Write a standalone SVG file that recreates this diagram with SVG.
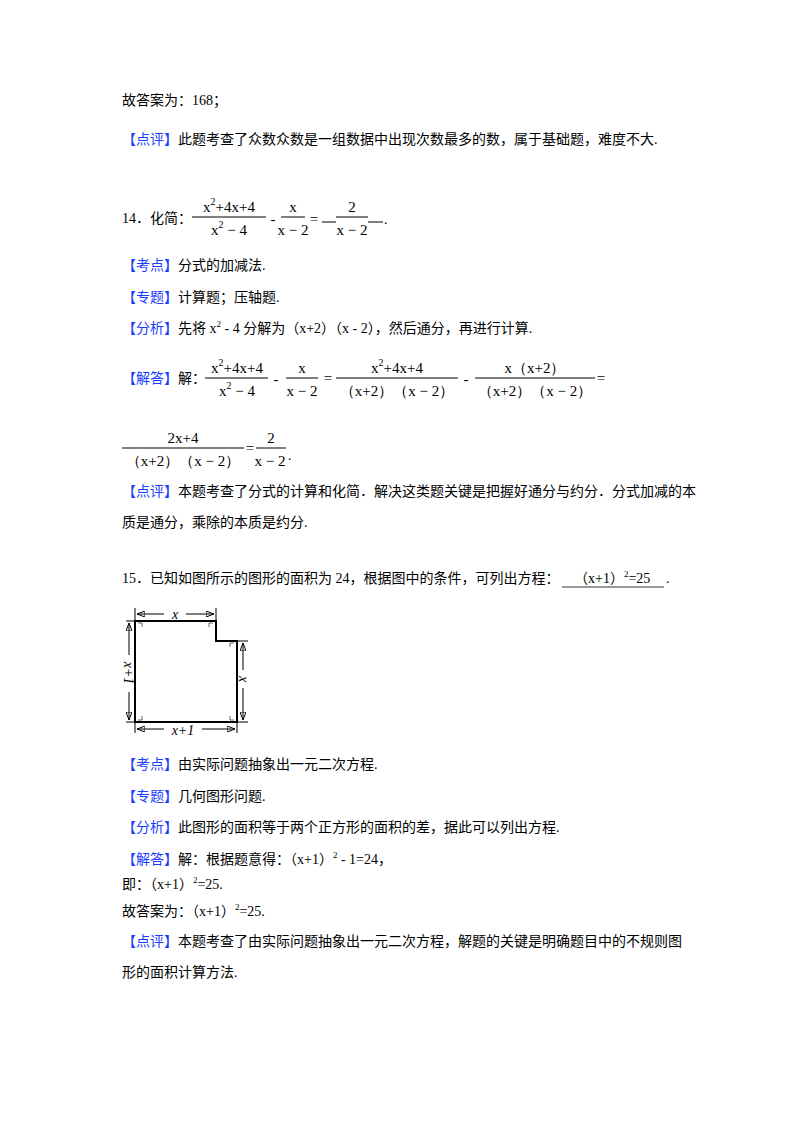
<svg xmlns="http://www.w3.org/2000/svg" width="800" height="1132" viewBox="0 0 800 1132">
<style>
text{font-family:"Liberation Serif","Noto Sans CJK SC",serif;font-size:14px;fill:#000}
.b{fill:#1a3cff}
.m{font-family:"Liberation Serif",serif;font-size:15px;text-anchor:middle}
.s{font-size:9px}
line,path{stroke:#000;fill:none}
</style>
<defs><marker id="a" markerWidth="8" markerHeight="6" refX="8" refY="3" orient="auto" markerUnits="userSpaceOnUse"><path d="M0,0 L8,3 L0,6 Z" fill="#000" stroke="none"/></marker></defs>
<rect width="800" height="1132" fill="#fff"/>
<g id="text">
<text x="122" y="105">故答案为：168；</text>
<text x="122" y="144"><tspan class="b">【点评】</tspan>此题考查了众数众数是一组数据中出现次数最多的数，属于基础题，难度不大.</text>
<text x="122" y="223">14．化简：</text>
<text class="m" x="229" y="212">x<tspan font-size="10" dy="-7">2</tspan><tspan dy="7">+4x+4</tspan></text>
<line x1="192" y1="217" x2="266" y2="217"/>
<text class="m" x="229" y="235">x<tspan font-size="10" dy="-7">2</tspan><tspan dy="7"> − 4</tspan></text>
<text class="m" x="273" y="224">-</text>
<text class="m" x="293" y="212">x</text>
<line x1="281" y1="217" x2="305" y2="217"/>
<text class="m" x="293" y="235">x − 2</text>
<text class="m" x="314" y="224">=</text>
<line x1="322" y1="222" x2="336" y2="222"/>
<text class="m" x="352" y="212">2</text>
<line x1="336" y1="217" x2="368" y2="217"/>
<text class="m" x="352" y="235">x − 2</text>
<line x1="368" y1="222" x2="383" y2="222"/>
<text x="384" y="224">.</text>
<text x="122" y="270"><tspan class="b">【考点】</tspan>分式的加减法.</text>
<text x="122" y="302"><tspan class="b">【专题】</tspan>计算题；压轴题.</text>
<text x="122" y="333"><tspan class="b">【分析】</tspan>先将 x<tspan class="s" dy="-6">2</tspan><tspan dy="6"> - 4 分解为（x+2）（x - 2），然后通分，再进行计算.</tspan></text>
<text x="122" y="383"><tspan class="b">【解答】</tspan>解：</text>
<text class="m" x="237" y="373">x<tspan font-size="10" dy="-7">2</tspan><tspan dy="7">+4x+4</tspan></text>
<line x1="205" y1="378" x2="268" y2="378"/>
<text class="m" x="237" y="396">x<tspan font-size="10" dy="-7">2</tspan><tspan dy="7"> − 4</tspan></text>
<text class="m" x="276" y="384">-</text>
<text class="m" x="302" y="373">x</text>
<line x1="286" y1="378" x2="318" y2="378"/>
<text class="m" x="302" y="396">x − 2</text>
<text class="m" x="328" y="383">=</text>
<text class="m" x="397" y="373">x<tspan font-size="10" dy="-7">2</tspan><tspan dy="7">+4x+4</tspan></text>
<line x1="336" y1="378" x2="458" y2="378"/>
<text class="m" x="397" y="396">（x+2）（x − 2）</text>
<text class="m" x="466" y="384">-</text>
<text class="m" x="535" y="373">x（x+2）</text>
<line x1="475" y1="378" x2="595" y2="378"/>
<text class="m" x="535" y="396">（x+2）（x − 2）</text>
<text class="m" x="601" y="383">=</text>
<text class="m" x="183" y="443">2x+4</text>
<line x1="122" y1="448" x2="244" y2="448"/>
<text class="m" x="183" y="466">（x+2）（x − 2）</text>
<text class="m" x="250" y="453">=</text>
<text class="m" x="271" y="443">2</text>
<line x1="256" y1="448" x2="286" y2="448"/>
<text class="m" x="270" y="466">x − 2</text><text x="288" y="460">.</text>
<text x="122" y="496"><tspan class="b">【点评】</tspan>本题考查了分式的计算和化简．解决这类题关键是把握好通分与约分．分式加减的本</text>
<text x="122" y="527">质是通分，乘除的本质是约分.</text>
<text x="122" y="583">15．已知如图所示的图形的面积为 24，根据图中的条件，可列出方程：</text>
<text x="574" y="583">（x+1）<tspan class="s" dy="-6">2</tspan><tspan dy="6">=25</tspan></text>
<line x1="562" y1="587" x2="664" y2="587" stroke-width="0.8"/>
<text x="666" y="583">.</text>
<text x="122" y="769"><tspan class="b">【考点】</tspan>由实际问题抽象出一元二次方程.</text>
<text x="122" y="801"><tspan class="b">【专题】</tspan>几何图形问题.</text>
<text x="122" y="832"><tspan class="b">【分析】</tspan>此图形的面积等于两个正方形的面积的差，据此可以列出方程.</text>
<text x="122" y="864"><tspan class="b">【解答】</tspan>解：根据题意得：（x+1）<tspan class="s" dy="-6">2</tspan><tspan dy="6"> - 1=24，</tspan></text>
<text x="122" y="889">即：（x+1）<tspan class="s" dy="-6">2</tspan><tspan dy="6">=25.</tspan></text>
<text x="122" y="916">故答案为：（x+1）<tspan class="s" dy="-6">2</tspan><tspan dy="6">=25.</tspan></text>
<text x="122" y="946"><tspan class="b">【点评】</tspan>本题考查了由实际问题抽象出一元二次方程，解题的关键是明确题目中的不规则图</text>
<text x="122" y="977">形的面积计算方法.</text>
</g>
<g id="figure">
<path d="M135,621 H216 V641 H237 V722 H135 Z" stroke-width="2"/>
<line x1="135" y1="608" x2="135" y2="621"/><line x1="216" y1="608" x2="216" y2="621"/>
<line x1="126" y1="621" x2="135" y2="621"/><line x1="126" y1="722" x2="135" y2="722"/>
<line x1="237" y1="641" x2="248" y2="641"/><line x1="237" y1="722" x2="248" y2="722"/>
<line x1="135" y1="722" x2="135" y2="733"/><line x1="237" y1="722" x2="237" y2="733"/>
<line x1="164" y1="614" x2="137" y2="614" marker-end="url(#a)"/><line x1="186" y1="614" x2="214" y2="614" marker-end="url(#a)"/>
<line x1="129" y1="655" x2="129" y2="623" marker-end="url(#a)"/><line x1="129" y1="692" x2="129" y2="720" marker-end="url(#a)"/>
<line x1="243" y1="670" x2="243" y2="643" marker-end="url(#a)"/><line x1="243" y1="688" x2="243" y2="720" marker-end="url(#a)"/>
<line x1="164" y1="729" x2="137" y2="729" marker-end="url(#a)"/><line x1="202" y1="729" x2="235" y2="729" marker-end="url(#a)"/>
<path d="M138,623 h4 v4 M213,623 h-4 v4 M234,643 h-4 v4 M138,720 h4 v-4 M234,720 h-4 v-4" stroke-width="0.6"/>
<text x="175" y="619" font-style="italic" text-anchor="middle" font-size="15">x</text>
<text x="183" y="735" font-style="italic" text-anchor="middle" font-size="15">x+1</text>
<text transform="translate(124,673) rotate(90)" font-style="italic" text-anchor="middle" font-size="15">x+1</text>
<text transform="translate(239,679) rotate(90)" font-style="italic" text-anchor="middle" font-size="15">x</text>
</g>
</svg>
